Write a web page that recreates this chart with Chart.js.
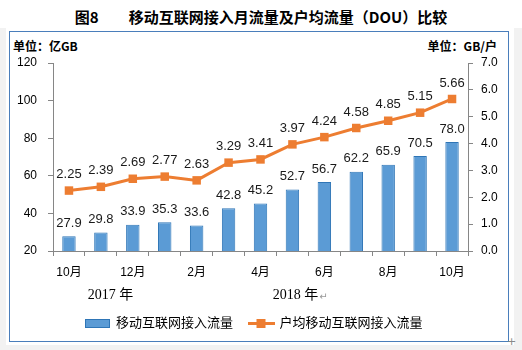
<!DOCTYPE html>
<html>
<head>
<meta charset="utf-8">
<script src="https://cdn.jsdelivr.net/npm/chart.js@4.4.0/dist/chart.umd.min.js"></script>
<style>
  html, body { margin: 0; padding: 0; background: #fff; }
  #page { position: relative; width: 522px; height: 350px; overflow: hidden; }
  #grey { position: absolute; left: 0; top: 28px; width: 522px; height: 322px; background: #f2f2f2; }
  #sheet { position: absolute; left: 6px; top: 28px; width: 508px; height: 317px; background: #fff; }
  #frame { position: absolute; left: 9px; top: 31px; width: 498px; height: 309px; border: 1px solid #4a7ebb; }
  #title { position: absolute; left: 0; top: 6px; width: 522px; text-align: center;
           font: bold 15px "Noto Sans CJK SC", sans-serif; color: #000; }
  #title span.no { margin-right: 30px; }
  .unit { position: absolute; top: 37px; font: bold 12px "Noto Sans CJK SC", sans-serif; color: #000; }
  #unitL { left: 13px; }
  #unitR { right: 25px; }
  #corner { position: absolute; left: 507px; top: 335px; font: 11px "DejaVu Sans", sans-serif; color: #888; }
  canvas { position: absolute; left: 0; top: 0; }
</style>
</head>
<body>
<div id="page">
  <div id="grey"></div>
  <div id="sheet"></div>
  <div id="frame"></div>
  <div id="corner">+</div>
  <div id="title"><span class="no">图8</span>移动互联网接入月流量及户均流量（DOU）比较</div>
  <div class="unit" id="unitL">单位：亿GB</div>
  <div class="unit" id="unitR">单位：GB/户</div>
  <canvas id="chart" width="522" height="350"></canvas>
</div>
<script>
// months Oct 2017 .. Oct 2018
var months = ["10月", "11月", "12月", "1月", "2月", "3月", "4月", "5月", "6月", "7月", "8月", "9月", "10月"];
var traffic = [27.9, 29.8, 33.9, 35.3, 33.6, 42.8, 45.2, 52.7, 56.7, 62.2, 65.9, 70.5, 78.0];
var dou = [2.25, 2.39, 2.69, 2.77, 2.63, 3.29, 3.41, 3.97, 4.24, 4.58, 4.85, 5.15, 5.66];
var yearLabels = ["2017 年", "2018 年"];
var yearAt = [1.3, 7.1];
var seriesNames = ["移动互联网接入流量", "户均移动互联网接入流量"];

var barFill = "#5b9bd5", barEdge = "#2e75b6", orange = "#ed7d31", axisGrey = "#868686";
var fontFam = "'Liberation Sans', 'Noto Sans CJK SC', sans-serif";

// legend icons
function makeIcon(w, h, draw) {
  var c = document.createElement("canvas");
  c.width = w; c.height = h;
  draw(c.getContext("2d"));
  return c;
}
var barIcon = makeIcon(25, 9, function (g) {
  g.fillStyle = barFill; g.fillRect(0, 0, 25, 9);
  g.strokeStyle = barEdge; g.lineWidth = 1; g.strokeRect(0.5, 0.5, 24, 8);
});
var lineIcon = makeIcon(27, 9, function (g) {
  g.fillStyle = orange;
  g.fillRect(0, 3, 27, 3);
  g.fillRect(9, 0, 9, 9);
});
var icons = [barIcon, lineIcon];

var valueLabels = {
  id: "valueLabels",
  afterDatasetsDraw: function (chart) {
    var ctx = chart.ctx;
    ctx.save();
    ctx.font = "13px " + fontFam;
    ctx.fillStyle = "#1a1a1a";
    ctx.textAlign = "center";
    ctx.textBaseline = "middle";
    chart.getDatasetMeta(0).data.forEach(function (el, i) {
      ctx.fillText(traffic[i].toFixed(1), el.x, el.y - 13);
    });
    chart.getDatasetMeta(1).data.forEach(function (el, i) {
      ctx.fillText(dou[i].toFixed(2), el.x, el.y - 16);
    });
    // year labels under the month ticks
    var xs = chart.scales.x;
    ctx.font = "14px 'Liberation Serif', 'Noto Sans CJK SC', serif";
    ctx.fillStyle = "#000";
    yearLabels.forEach(function (t, i) {
      var x = xs.getPixelForValue(yearAt[i]);
      ctx.fillText(t, x, xs.top + 44);
      if (i === yearLabels.length - 1) {
        // stray paragraph mark copied from the source document
        var w = ctx.measureText(t).width;
        ctx.save();
        ctx.font = "10px 'DejaVu Sans', sans-serif";
        ctx.fillStyle = "#999";
        ctx.textAlign = "left";
        ctx.fillText("↵", x + w / 2 + 1, xs.top + 46);
        ctx.restore();
      }
    });
    ctx.restore();
  }
};

var ctx = document.getElementById("chart");
var chart = new Chart(ctx, {
  type: "bar",
  data: {
    labels: months,
    datasets: [
      {
        label: seriesNames[0],
        data: traffic,
        backgroundColor: barFill,
        borderColor: barEdge,
        borderWidth: 1,
        barPercentage: 0.42,
        categoryPercentage: 1,
        yAxisID: "y",
        order: 1
      },
      {
        type: "line",
        label: seriesNames[1],
        data: dou,
        borderColor: orange,
        backgroundColor: orange,
        borderWidth: 3,
        pointStyle: "rect",
        pointRadius: 6,
        pointBorderWidth: 0,
        tension: 0,
        yAxisID: "y1",
        order: 0
      }
    ]
  },
  options: {
    responsive: false,
    animation: false,
    layout: { padding: { top: 63, left: 0, right: 14, bottom: 10 } },
    scales: {
      x: {
        offset: true,
        grid: { display: true, drawOnChartArea: false, offset: true, tickLength: 5, color: axisGrey },
        border: { color: axisGrey },
        ticks: {
          autoSkip: false, maxRotation: 0, padding: 9,
          color: "#000", font: { size: 12, family: fontFam },
          callback: function (v, i) { return i % 2 === 0 ? months[i] : ""; }
        },
        afterFit: function (s) { s.height = 50; }
      },
      y: {
        position: "left",
        min: 20, max: 120,
        grid: { display: true, drawOnChartArea: false, tickLength: 5, color: axisGrey },
        border: { color: axisGrey },
        ticks: { stepSize: 20, padding: 11, color: "#000", font: { size: 12, family: fontFam } },
        afterFit: function (s) { s.width = 53; }
      },
      y1: {
        position: "right",
        min: 0, max: 7,
        grid: { display: true, drawOnChartArea: false, tickLength: 5, color: axisGrey },
        border: { color: axisGrey },
        ticks: {
          stepSize: 1, padding: 8, color: "#000", font: { size: 12, family: fontFam },
          callback: function (v) { return v.toFixed(1); }
        },
        afterFit: function (s) { s.width = 40; }
      }
    },
    plugins: {
      tooltip: { enabled: false },
      legend: {
        position: "bottom",
        labels: {
          usePointStyle: true,
          pointStyleWidth: 24,
          padding: 16,
          color: "#000",
          font: { size: 13, family: fontFam },
          sort: function (a, b) { return a.datasetIndex - b.datasetIndex; },
          generateLabels: function (c) {
            var items = Chart.defaults.plugins.legend.labels.generateLabels(c);
            items.forEach(function (it) { it.pointStyle = icons[it.datasetIndex]; });
            return items;
          }
        }
      }
    }
  },
  plugins: [valueLabels]
});
</script>
</body>
</html>
